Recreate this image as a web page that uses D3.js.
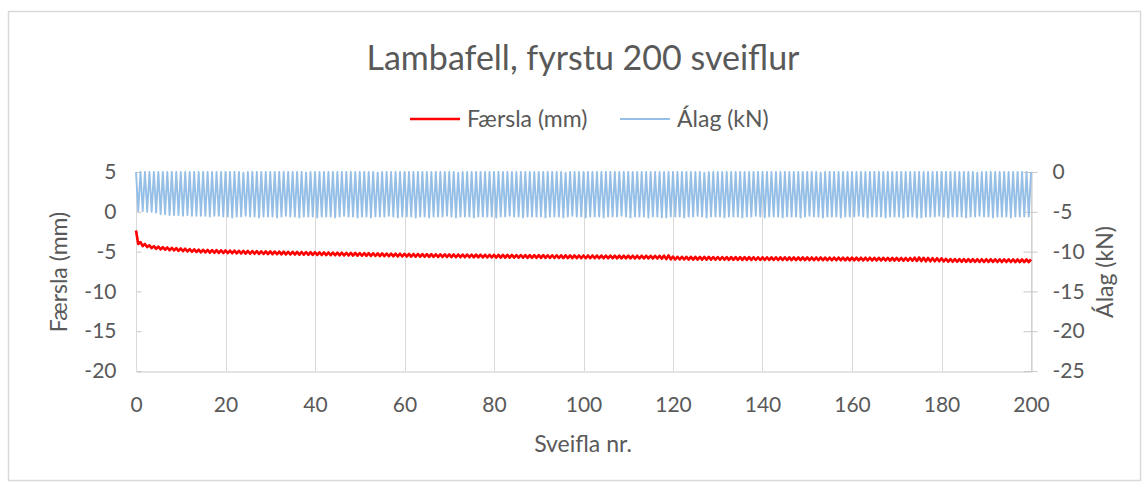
<!DOCTYPE html>
<html>
<head>
<meta charset="utf-8">
<script src="https://cdn.jsdelivr.net/npm/d3@7"></script>
<style>
  body { margin: 0; background: #fff; }
  text { font-family: Lato, "Open Sans", sans-serif; fill: #595959; }
</style>
</head>
<body>
<svg id="chart" width="1144" height="485"></svg>
<script>
// Cycle-number ticks and axis ticks
const cycleTicks = [0, 20, 40, 60, 80, 100, 120, 140, 160, 180, 200];
const dispTicks = [5, 0, -5, -10, -15, -20];
const loadTicks = [0, -5, -10, -15, -20, -25];

// Displacement (mm) at the start of each cycle (cycles 0..200)
const dispHigh = [
  -2.35, -3.80, -4.03, -4.21, -4.31, -4.38, -4.43, -4.48, -4.52, -4.56,
  -4.61, -4.64, -4.68, -4.71, -4.75, -4.77, -4.79, -4.81, -4.82, -4.84, -4.85,
  -4.87, -4.88, -4.90, -4.91, -4.92, -4.93, -4.95, -4.96, -4.97, -4.98,
  -4.99, -5.00, -5.01, -5.02, -5.03, -5.04, -5.05, -5.06, -5.07, -5.08,
  -5.09, -5.10, -5.11, -5.12, -5.13, -5.14, -5.15, -5.16, -5.17, -5.18,
  -5.19, -5.20, -5.21, -5.22, -5.23, -5.24, -5.25, -5.26, -5.27, -5.28,
  -5.29, -5.30, -5.30, -5.31, -5.32, -5.32, -5.33, -5.34, -5.34, -5.35,
  -5.36, -5.36, -5.37, -5.37, -5.38, -5.38, -5.39, -5.40, -5.40, -5.41,
  -5.41, -5.42, -5.42, -5.42, -5.43, -5.43, -5.44, -5.44, -5.45, -5.45,
  -5.45, -5.46, -5.46, -5.46, -5.47, -5.47, -5.48, -5.48, -5.49, -5.49,
  -5.49, -5.49, -5.50, -5.50, -5.50, -5.50, -5.51, -5.51, -5.51, -5.51,
  -5.52, -5.52, -5.52, -5.52, -5.53, -5.53, -5.53, -5.50, -5.48, -5.62,
  -5.65, -5.65, -5.66, -5.66, -5.66, -5.67, -5.67, -5.67, -5.68, -5.68,
  -5.68, -5.69, -5.69, -5.69, -5.70, -5.70, -5.70, -5.71, -5.71, -5.71,
  -5.71, -5.72, -5.72, -5.72, -5.72, -5.73, -5.73, -5.73, -5.73, -5.73,
  -5.74, -5.74, -5.74, -5.75, -5.75, -5.75, -5.75, -5.76, -5.76, -5.76,
  -5.76, -5.77, -5.77, -5.77, -5.78, -5.78, -5.78, -5.79, -5.79, -5.79,
  -5.80, -5.80, -5.80, -5.76, -5.74, -5.78, -5.80, -5.82, -5.83, -5.84,
  -5.90, -5.93, -5.94, -5.94, -5.95, -5.95, -5.95, -5.96, -5.96, -5.96,
  -5.96, -5.97, -5.97, -5.97, -5.97, -5.98, -5.98, -5.98, -5.98, -5.98
];

// Displacement (mm) at mid-cycle, under peak load (cycles 0..199)
const dispLow = [
  -4.05, -4.30, -4.43, -4.56, -4.65, -4.72, -4.77, -4.82, -4.86, -4.90,
  -4.95, -4.98, -5.02, -5.05, -5.09, -5.11, -5.13, -5.15, -5.16, -5.18, -5.19,
  -5.21, -5.22, -5.24, -5.25, -5.26, -5.27, -5.29, -5.30, -5.31, -5.32,
  -5.33, -5.34, -5.35, -5.36, -5.37, -5.38, -5.39, -5.40, -5.41, -5.42,
  -5.43, -5.44, -5.45, -5.46, -5.47, -5.48, -5.49, -5.50, -5.51, -5.52,
  -5.53, -5.54, -5.55, -5.56, -5.57, -5.58, -5.59, -5.60, -5.61, -5.62,
  -5.63, -5.64, -5.64, -5.65, -5.66, -5.66, -5.67, -5.68, -5.68, -5.69,
  -5.70, -5.70, -5.71, -5.71, -5.72, -5.72, -5.73, -5.74, -5.74, -5.75,
  -5.75, -5.76, -5.76, -5.76, -5.77, -5.77, -5.78, -5.78, -5.79, -5.79,
  -5.79, -5.80, -5.80, -5.80, -5.81, -5.81, -5.82, -5.82, -5.83, -5.83,
  -5.83, -5.83, -5.84, -5.84, -5.84, -5.84, -5.85, -5.85, -5.85, -5.85,
  -5.86, -5.86, -5.86, -5.86, -5.87, -5.87, -5.90, -5.95, -5.98, -6.00,
  -5.99, -5.99, -6.00, -6.00, -6.00, -6.01, -6.01, -6.01, -6.02, -6.02,
  -6.02, -6.03, -6.03, -6.03, -6.04, -6.04, -6.04, -6.05, -6.05, -6.05,
  -6.05, -6.06, -6.06, -6.06, -6.06, -6.07, -6.07, -6.07, -6.07, -6.07,
  -6.08, -6.08, -6.08, -6.09, -6.09, -6.09, -6.09, -6.10, -6.10, -6.10,
  -6.10, -6.11, -6.11, -6.11, -6.12, -6.12, -6.12, -6.13, -6.13, -6.13,
  -6.14, -6.14, -6.14, -6.18, -6.20, -6.22, -6.22, -6.22, -6.22, -6.24,
  -6.27, -6.28, -6.28, -6.28, -6.29, -6.29, -6.29, -6.30, -6.30, -6.30,
  -6.30, -6.31, -6.31, -6.31, -6.31, -6.32, -6.32, -6.32, -6.32
];

// Load (kN) at the start of each cycle (cycles 0..200): unloaded
const loadLow = [
  0, 0, 0, 0, 0, 0, 0, 0, 0, 0, 0, 0, 0, 0, 0, 0, 0, 0, 0, 0, 0,
  0, 0, 0, -0.1, 0, 0, 0, 0, 0, 0, 0, 0, 0, 0, 0, 0, 0, -0.1, 0, 0,
  0, 0, 0, 0, 0, 0, 0, 0, 0, 0, 0, 0, 0, -0.1, 0, 0, 0, 0, 0, 0,
  0, 0, 0, 0, 0, 0, 0, 0, 0, 0, 0, -0.1, 0, 0, 0, 0, 0, 0, 0, 0,
  0, 0, 0, 0, 0, 0, 0, 0, 0, 0, 0, 0, 0, 0, 0, -0.1, 0, 0, 0, 0,
  0, 0, 0, 0, 0, 0, 0, 0, 0, 0, 0, 0, 0, 0, 0, 0, 0, 0, 0, 0,
  0, 0, 0, 0, 0, 0, -0.1, 0, 0, 0, 0, 0, 0, 0, 0, 0, 0, 0, 0, 0,
  0, 0, 0, 0, 0, 0, 0, 0, 0, 0, 0, 0, -0.1, 0, 0, 0, 0, 0, 0, 0,
  0, 0, 0, 0, 0, 0, 0, 0, 0, 0, 0, 0, 0, 0, 0, 0, 0, 0, 0, 0,
  0, 0, 0, 0, 0, 0, 0, -0.1, 0, 0, 0, 0, 0, 0, 0, 0, 0, 0, 0, 0
];

// Peak load (kN) at mid-cycle (cycles 0..199)
const loadPeak = [
  -4.9, -4.9, -5.0, -5.0, -5.1, -5.3, -5.3, -5.4, -5.4, -5.4,
  -5.5, -5.4, -5.5, -5.5, -5.5, -5.5, -5.6, -5.5, -5.5, -5.6,
  -5.6, -5.7, -5.6, -5.6, -5.5, -5.6, -5.6, -5.7, -5.6, -5.6,
  -5.6, -5.7, -5.6, -5.5, -5.6, -5.6, -5.7, -5.6, -5.6, -5.6,
  -5.7, -5.6, -5.6, -5.6, -5.7, -5.6, -5.5, -5.6, -5.6, -5.7,
  -5.6, -5.6, -5.7, -5.6, -5.6, -5.6, -5.5, -5.6, -5.7, -5.6,
  -5.6, -5.6, -5.7, -5.6, -5.6, -5.7, -5.6, -5.6, -5.6, -5.5,
  -5.6, -5.7, -5.6, -5.6, -5.6, -5.7, -5.6, -5.6, -5.6, -5.6,
  -5.7, -5.6, -5.6, -5.5, -5.6, -5.6, -5.7, -5.6, -5.6, -5.6,
  -5.6, -5.7, -5.6, -5.6, -5.6, -5.7, -5.6, -5.5, -5.6, -5.6,
  -5.7, -5.6, -5.6, -5.6, -5.7, -5.6, -5.6, -5.6, -5.5, -5.6,
  -5.7, -5.6, -5.6, -5.6, -5.7, -5.6, -5.6, -5.7, -5.7, -5.6,
  -5.6, -5.6, -5.7, -5.6, -5.6, -5.5, -5.6, -5.7, -5.6, -5.6,
  -5.6, -5.7, -5.6, -5.6, -5.6, -5.7, -5.6, -5.6, -5.5, -5.6,
  -5.7, -5.6, -5.6, -5.6, -5.7, -5.6, -5.6, -5.6, -5.7, -5.6,
  -5.5, -5.6, -5.6, -5.7, -5.6, -5.6, -5.6, -5.7, -5.6, -5.6,
  -5.6, -5.5, -5.6, -5.7, -5.6, -5.6, -5.6, -5.7, -5.6, -5.6,
  -5.6, -5.7, -5.6, -5.6, -5.7, -5.7, -5.6, -5.6, -5.6, -5.5,
  -5.6, -5.7, -5.6, -5.6, -5.6, -5.7, -5.6, -5.6, -5.5, -5.6,
  -5.6, -5.7, -5.6, -5.6, -5.6, -5.7, -5.6, -5.6, -5.6, -5.6
];

const svg = d3.select("#chart");
const W = 1144, H = 485;
const plot = { left: 136, right: 1031, top: 172, bottom: 371 };
const gridColor = "#d9d9d9";
const axisColor = "#c8c8c8";
const plain = d => String(d);   // hyphen-minus for negative labels

// Outer chart frame
svg.append("rect")
  .attr("x", 8.5).attr("y", 11.5)
  .attr("width", W - 12).attr("height", H - 16)
  .attr("fill", "#fff").attr("stroke", gridColor).attr("stroke-width", 1.5);

const x = d3.scaleLinear().domain([0, 200]).range([plot.left, plot.right]);
const yDisp = d3.scaleLinear().domain([-20, 5]).range([plot.bottom, plot.top]);
const yLoad = d3.scaleLinear().domain([-25, 0]).range([plot.bottom, plot.top]);

// Vertical gridlines at each cycle tick
svg.append("g").selectAll("line").data(cycleTicks).join("line")
  .attr("y1", plot.top).attr("y2", plot.bottom)
  .attr("x1", d => Math.round(x(d)) + 0.5).attr("x2", d => Math.round(x(d)) + 0.5)
  .attr("stroke", gridColor).attr("stroke-width", 1);

// Left axis (displacement)
const leftAxis = svg.append("g")
  .attr("transform", `translate(${plot.left + 0.5},0)`)
  .call(d3.axisLeft(yDisp).tickValues(dispTicks).tickFormat(plain).tickSize(-5).tickPadding(20));
leftAxis.select(".domain").remove();
leftAxis.selectAll(".tick line").attr("stroke", axisColor);

// Right axis (load)
const rightAxis = svg.append("g")
  .attr("transform", `translate(${plot.right + 0.5},0)`)
  .call(d3.axisRight(yLoad).tickValues(loadTicks).tickFormat(plain).tickSize(6).tickPadding(15).tickSizeOuter(0));
rightAxis.select(".domain").attr("stroke", axisColor);
rightAxis.selectAll(".tick line").attr("stroke", axisColor).attr("x1", -8);

// Bottom axis (cycle number)
const bottomAxis = svg.append("g")
  .attr("transform", `translate(0,${plot.bottom + 0.5})`)
  .call(d3.axisBottom(x).tickValues(cycleTicks).tickSize(0).tickPadding(26).tickSizeOuter(0));
bottomAxis.select(".domain").attr("stroke", axisColor);

[leftAxis, rightAxis, bottomAxis].forEach(g => {
  g.attr("font-family", null).attr("font-size", null);
  g.selectAll("text").style("font-size", "21px").attr("fill", "#595959");
});

// Load series (secondary axis)
const loadPts = [];
loadPeak.forEach((v, i) => {
  loadPts.push([i, loadLow[i]]);
  loadPts.push([i + 0.5, v]);
});
loadPts.push([200, loadLow[200]]);

svg.append("path")
  .datum(loadPts)
  .attr("fill", "none")
  .attr("stroke", "#95bfe6")
  .attr("stroke-width", 1.9)
  .attr("stroke-linejoin", "round")
  .attr("d", d3.line().x(d => x(d[0])).y(d => yLoad(d[1])));

// Displacement series (primary axis)
const dispPts = [];
dispLow.forEach((v, i) => {
  dispPts.push([i, dispHigh[i]]);
  dispPts.push([i + 0.5, v]);
});
dispPts.push([200, dispHigh[200]]);

svg.append("path")
  .datum(dispPts)
  .attr("fill", "none")
  .attr("stroke", "#ff0000")
  .attr("stroke-width", 2.6)
  .attr("stroke-linejoin", "round")
  .attr("d", d3.line().x(d => x(d[0])).y(d => yDisp(d[1])));

// Title
svg.append("text")
  .attr("x", 583).attr("y", 70)
  .attr("text-anchor", "middle")
  .style("font-size", "34px")
  .text("Lambafell, fyrstu 200 sveiflur");

// Legend
const legend = [
  { name: "Færsla (mm)", color: "#ff0000", x0: 410, width: 2.6 },
  { name: "Álag (kN)", color: "#95bfe6", x0: 620, width: 2.2 }
];
const lg = svg.append("g").selectAll("g").data(legend).join("g");
lg.append("line")
  .attr("x1", d => d.x0).attr("x2", d => d.x0 + 50)
  .attr("y1", 119).attr("y2", 119)
  .attr("stroke", d => d.color).attr("stroke-width", d => d.width);
lg.append("text")
  .attr("x", d => d.x0 + 57).attr("y", 127)
  .style("font-size", "23px")
  .text(d => d.name);

// Axis titles
svg.append("text")
  .attr("x", 583).attr("y", 452)
  .attr("text-anchor", "middle")
  .style("font-size", "23px")
  .text("Sveifla nr.");

svg.append("text")
  .attr("transform", "translate(67,272) rotate(-90)")
  .attr("text-anchor", "middle")
  .style("font-size", "23px")
  .text("Færsla (mm)");

svg.append("text")
  .attr("transform", "translate(1113,272) rotate(-90)")
  .attr("text-anchor", "middle")
  .style("font-size", "23px")
  .text("Álag (kN)");
</script>
</body>
</html>
